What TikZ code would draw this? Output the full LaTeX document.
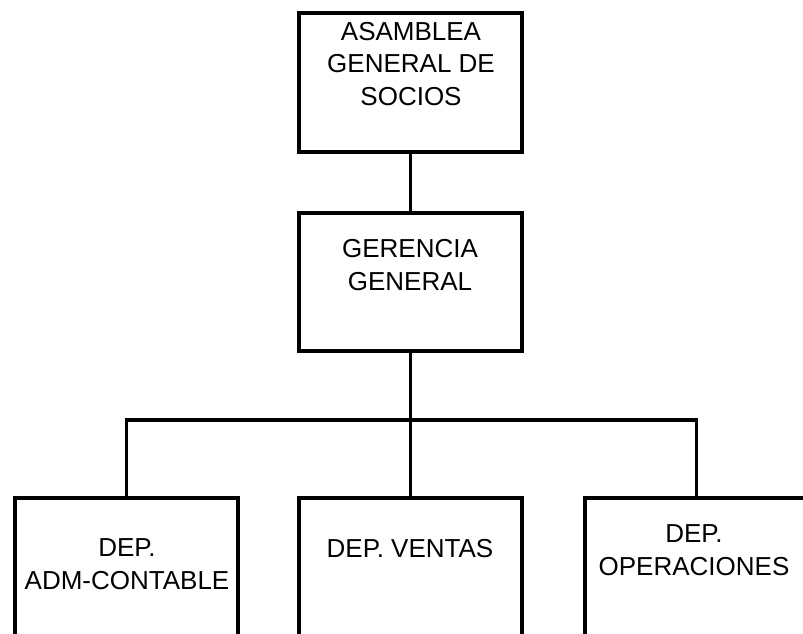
\documentclass[tikz,border=0pt]{standalone}
\usepackage{fontspec}
\setmainfont{Liberation Sans}
\begin{document}
\begin{tikzpicture}[x=1pt,y=-1pt,
  orgbox/.style={draw=black, line width=3.8pt, rectangle, minimum width=223pt, inner sep=0pt, line join=miter},
  orgtext/.style={align=center, inner sep=0pt, font=\fontsize{26}{32.3}\selectfont},
  link/.style={draw=black, line width=3.8pt, line join=miter}]
  \useasboundingbox (0,0) rectangle (803,634);
  \clip (0,0) rectangle (803,634);

  % boxes
  \node[orgbox, minimum height=139pt] (asamblea) at (410.5,82.5) {};
  \node[orgbox, minimum height=138pt] (gerencia) at (410.5,282) {};
  \node[orgbox, minimum height=200pt] (adm) at (126.5,598) {};
  \node[orgbox, minimum height=200pt] (ventas) at (410.5,598) {};
  \node[orgbox, minimum height=200pt] (ops) at (696.5,598) {};

  % labels (anchored on the baseline of their last line)
  \node[orgtext, anchor=base] (asamblea-t) at (411,105) {ASAMBLEA\\GENERAL DE\\SOCIOS};
  \node[orgtext, anchor=base] (gerencia-t) at (410,290) {GERENCIA\\GENERAL};
  \node[orgtext, anchor=base] (adm-t) at (127,589) {DEP.\\ADM-CONTABLE};
  \node[orgtext, anchor=base] (ventas-t) at (410,557) {DEP. VENTAS};
  \node[orgtext, anchor=base] (ops-t) at (694,575) {DEP.\\OPERACIONES};

  % connectors
  \coordinate (bus) at (410.5,420);
  \draw[link] (asamblea.south) -- (gerencia.north);
  \draw[link] (gerencia.south) -- (bus);
  \draw[link] (adm.north) |- (bus) -| (ops.north);
  \draw[link] (bus) -- (ventas.north);
\end{tikzpicture}
\end{document}
